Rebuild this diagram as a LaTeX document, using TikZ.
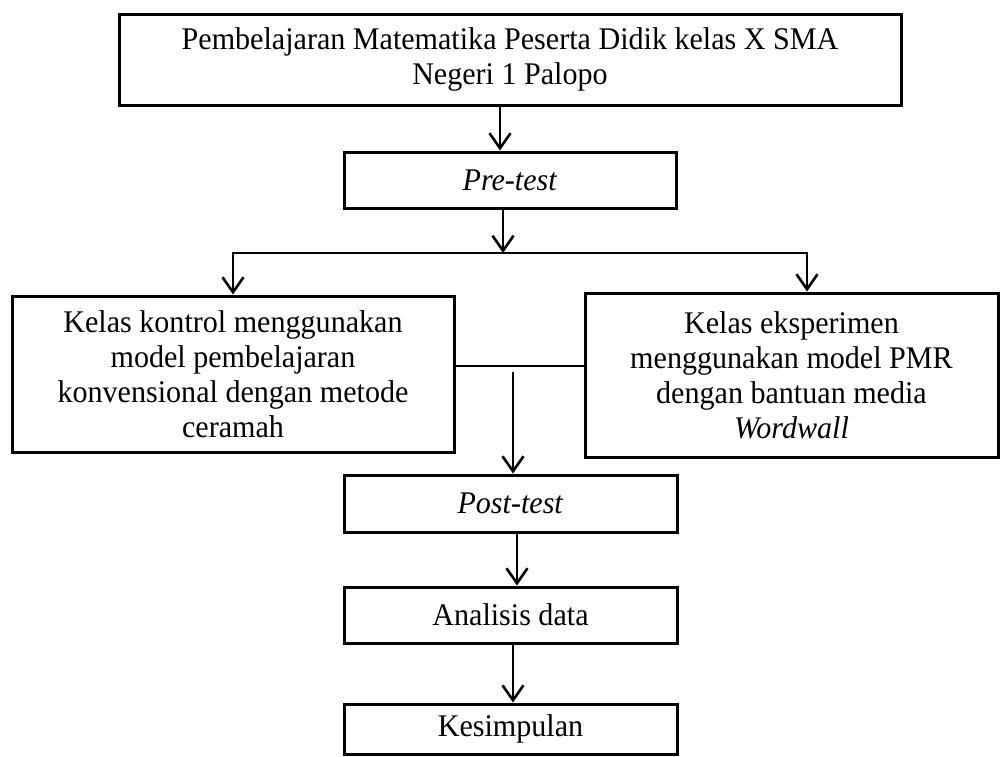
\documentclass[tikz,border=0pt]{standalone}
\usepackage{fontspec}
\setmainfont{Liberation Serif}[FakeStretch=0.955]
\usetikzlibrary{arrows.meta}
\begin{document}
\begin{tikzpicture}[x=1pt,y=-1pt,
  box/.style={draw, line width=3pt, align=center, inner sep=0pt,
    font=\fontsize{31.5}{35}\selectfont},
  arr/.style={line width=2.6pt, -{Straight Barb[length=15pt,width=21pt]}},
  conn/.style={line width=2.6pt, line cap=rect}]
\useasboundingbox[fill=white] (0,0) rectangle (1001,756);
% boxes
\node[box, minimum width=782pt, minimum height=91pt] (t1) at (510,59.5)
  {Pembelajaran Matematika Peserta Didik kelas X SMA\\Negeri 1 Palopo};
\node[box, minimum width=332pt, minimum height=56pt] (pre) at (510,180) {\textit{Pre-test}};
\node[box, minimum width=442pt, minimum height=156pt] (kon) at (233,374)
  {Kelas kontrol menggunakan\\model pembelajaran\\konvensional dengan metode\\ceramah};
\node[box, minimum width=413pt, minimum height=164pt] (eks) at (791.5,375)
  {Kelas eksperimen\\menggunakan model PMR\\dengan bantuan media\\\textit{Wordwall}};
\node[box, minimum width=333pt, minimum height=57pt] (post) at (510.5,503.5) {\textit{Post-test}};
\node[box, minimum width=333pt, minimum height=56pt] (ana) at (510.5,615) {Analisis data};
\node[box, minimum width=333pt, minimum height=50pt] (kes) at (510.5,729) {Kesimpulan};
% helper coordinates
\coordinate (a1) at (500,0);
\coordinate (bus) at (503,253);
\coordinate (busL) at (233,253);
\coordinate (busR) at (807,253);
\coordinate (hj) at (513,366);
\coordinate (mtop) at (513,372);
\coordinate (a2) at (517,0);
\coordinate (a3) at (513,0);
% connectors
\draw[arr] (t1.south -| a1) -- (pre.north -| a1);
\draw[arr] (pre.south -| bus) -- (bus);
\draw[conn] (busL) -- (busR);
\draw[arr] (busL) -- (busL |- kon.north);
\draw[arr] (busR) -- (busR |- eks.north);
\draw[line width=2.6pt] (kon.east |- hj) -- (eks.west |- hj);
\draw[arr] (mtop) -- (mtop |- post.north);
\draw[arr] (post.south -| a2) -- (ana.north -| a2);
\draw[arr] (ana.south -| a3) -- (kes.north -| a3);
\end{tikzpicture}
\end{document}
